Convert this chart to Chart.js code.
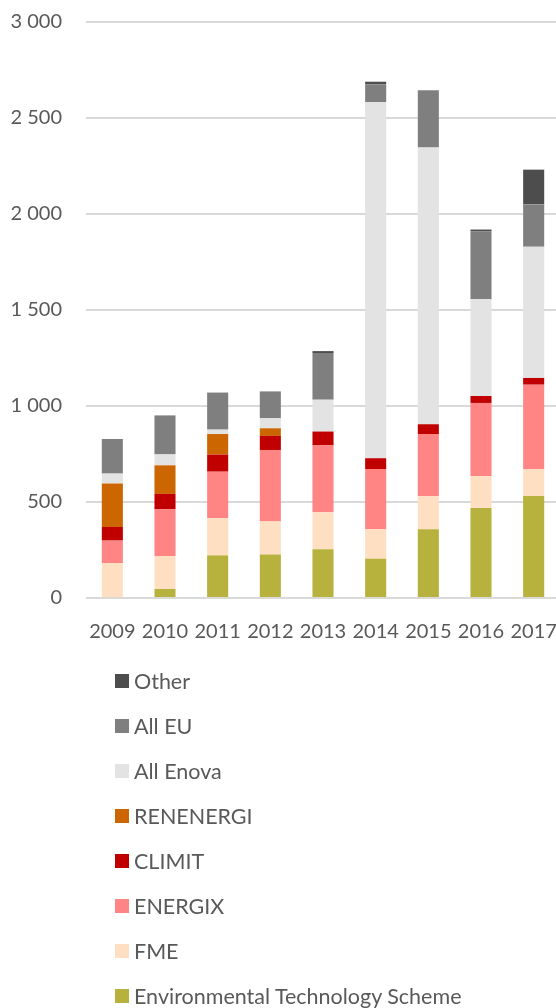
<!DOCTYPE html>
<html>
<head>
<meta charset="utf-8">
<script src="https://cdn.jsdelivr.net/npm/chart.js@4/dist/chart.umd.min.js"></script>
<style>
  html, body { margin: 0; padding: 0; background: #fff; overflow: hidden; width: 556px; height: 1008px; }
  #wrap { position: absolute; left: 0; top: 0; width: 560px; height: 660px; }
  #leyenda { position: absolute; left: 115px; top: 658px; font-family: Lato, sans-serif; font-size: 21.5px; color: #595959; }
  .item { height: 45px; display: flex; align-items: center; white-space: nowrap; }
  .item span.caja { width: 14px; height: 14px; margin-right: 5px; display: inline-block; }
</style>
</head>
<body>
<div id="wrap"><canvas id="grafico"></canvas></div>
<div id="leyenda"></div>
<script>
// Datos (millones NOK aprox.)
const anios = ['2009', '2010', '2011', '2012', '2013', '2014', '2015', '2016', '2017'];
const envTech   = [0, 47, 222, 226, 254, 205, 358, 469, 531];
const fme       = [182, 172, 193, 173, 192, 153, 172, 165, 139];
const energix   = [117, 243, 243, 372, 349, 314, 324, 382, 441];
const climit    = [71, 80, 89, 73, 72, 56, 51, 36, 35];
const renenergi = [227, 149, 107, 40, 0, 0, 0, 0, 0];
const enova     = [51, 57, 23, 52, 166, 1854, 1442, 504, 684];
const allEu     = [180, 203, 193, 140, 243, 93, 297, 354, 220];
const otros     = [0, 0, 0, 0, 10, 14, 0, 9, 181];
const ticksY = [0, 500, 1000, 1500, 2000, 2500, 3000];

const series = [
  { label: 'Environmental Technology Scheme', data: envTech, color: '#b6b23d' },
  { label: 'FME', data: fme, color: '#ffdfc2' },
  { label: 'ENERGIX', data: energix, color: '#ff8585' },
  { label: 'CLIMIT', data: climit, color: '#c00000' },
  { label: 'RENENERGI', data: renenergi, color: '#cc6600' },
  { label: 'All Enova', data: enova, color: '#e3e3e3' },
  { label: 'All EU', data: allEu, color: '#7f7f7f' },
  { label: 'Other', data: otros, color: '#4d4d4d' },
];

const gris = '#595959';
const fuente = { family: 'Lato, sans-serif', size: 20 };

function formatoMiles(v) {
  return String(v).replace(/\B(?=(\d{3})+(?!\d))/g, ' ');
}

const ctx = document.getElementById('grafico').getContext('2d');
const grafico = new Chart(ctx, {
  type: 'bar',
  data: {
    labels: anios,
    datasets: series.map(s => ({
      label: s.label,
      data: s.data,
      backgroundColor: s.color,
      borderWidth: 0,
      categoryPercentage: 1,
      barPercentage: 0.4,
    }))
  },
  options: {
    responsive: true,
    maintainAspectRatio: false,
    animation: false,
    layout: { padding: { top: 22, left: 0, right: 0, bottom: 0 } },
    plugins: {
      legend: { display: false },
      tooltip: { enabled: false }
    },
    scales: {
      x: {
        stacked: true,
        // marcas invisibles para bajar las etiquetas sin añadir relleno lateral
        grid: { display: true, drawOnChartArea: false, drawTicks: true, tickLength: 22, color: 'rgba(0,0,0,0)' },
        border: { display: false },
        ticks: { color: gris, font: fuente, padding: 0, autoSkip: false, maxRotation: 0 },
        afterFit: s => { s.height = 62; s.paddingLeft = 0; s.paddingRight = 0; }
      },
      y: {
        stacked: true,
        min: 0,
        max: 3000,
        afterBuildTicks: s => { s.ticks = ticksY.map(v => ({ value: v })); },
        grid: { color: '#d9d9d9', lineWidth: 2, drawTicks: false },
        border: { display: false },
        ticks: { color: gris, font: fuente, padding: 24, callback: v => formatoMiles(v) },
        afterFit: s => { s.width = 86; s.paddingTop = 0; s.paddingBottom = 0; }
      }
    }
  }
});

// Leyenda vertical (orden inverso, como en el original)
const leyenda = document.getElementById('leyenda');
grafico.data.datasets.slice().reverse().forEach(d => {
  const fila = document.createElement('div');
  fila.className = 'item';
  fila.innerHTML = `<span class="caja" style="background:${d.backgroundColor}"></span>${d.label}`;
  leyenda.appendChild(fila);
});
</script>
</body>
</html>
